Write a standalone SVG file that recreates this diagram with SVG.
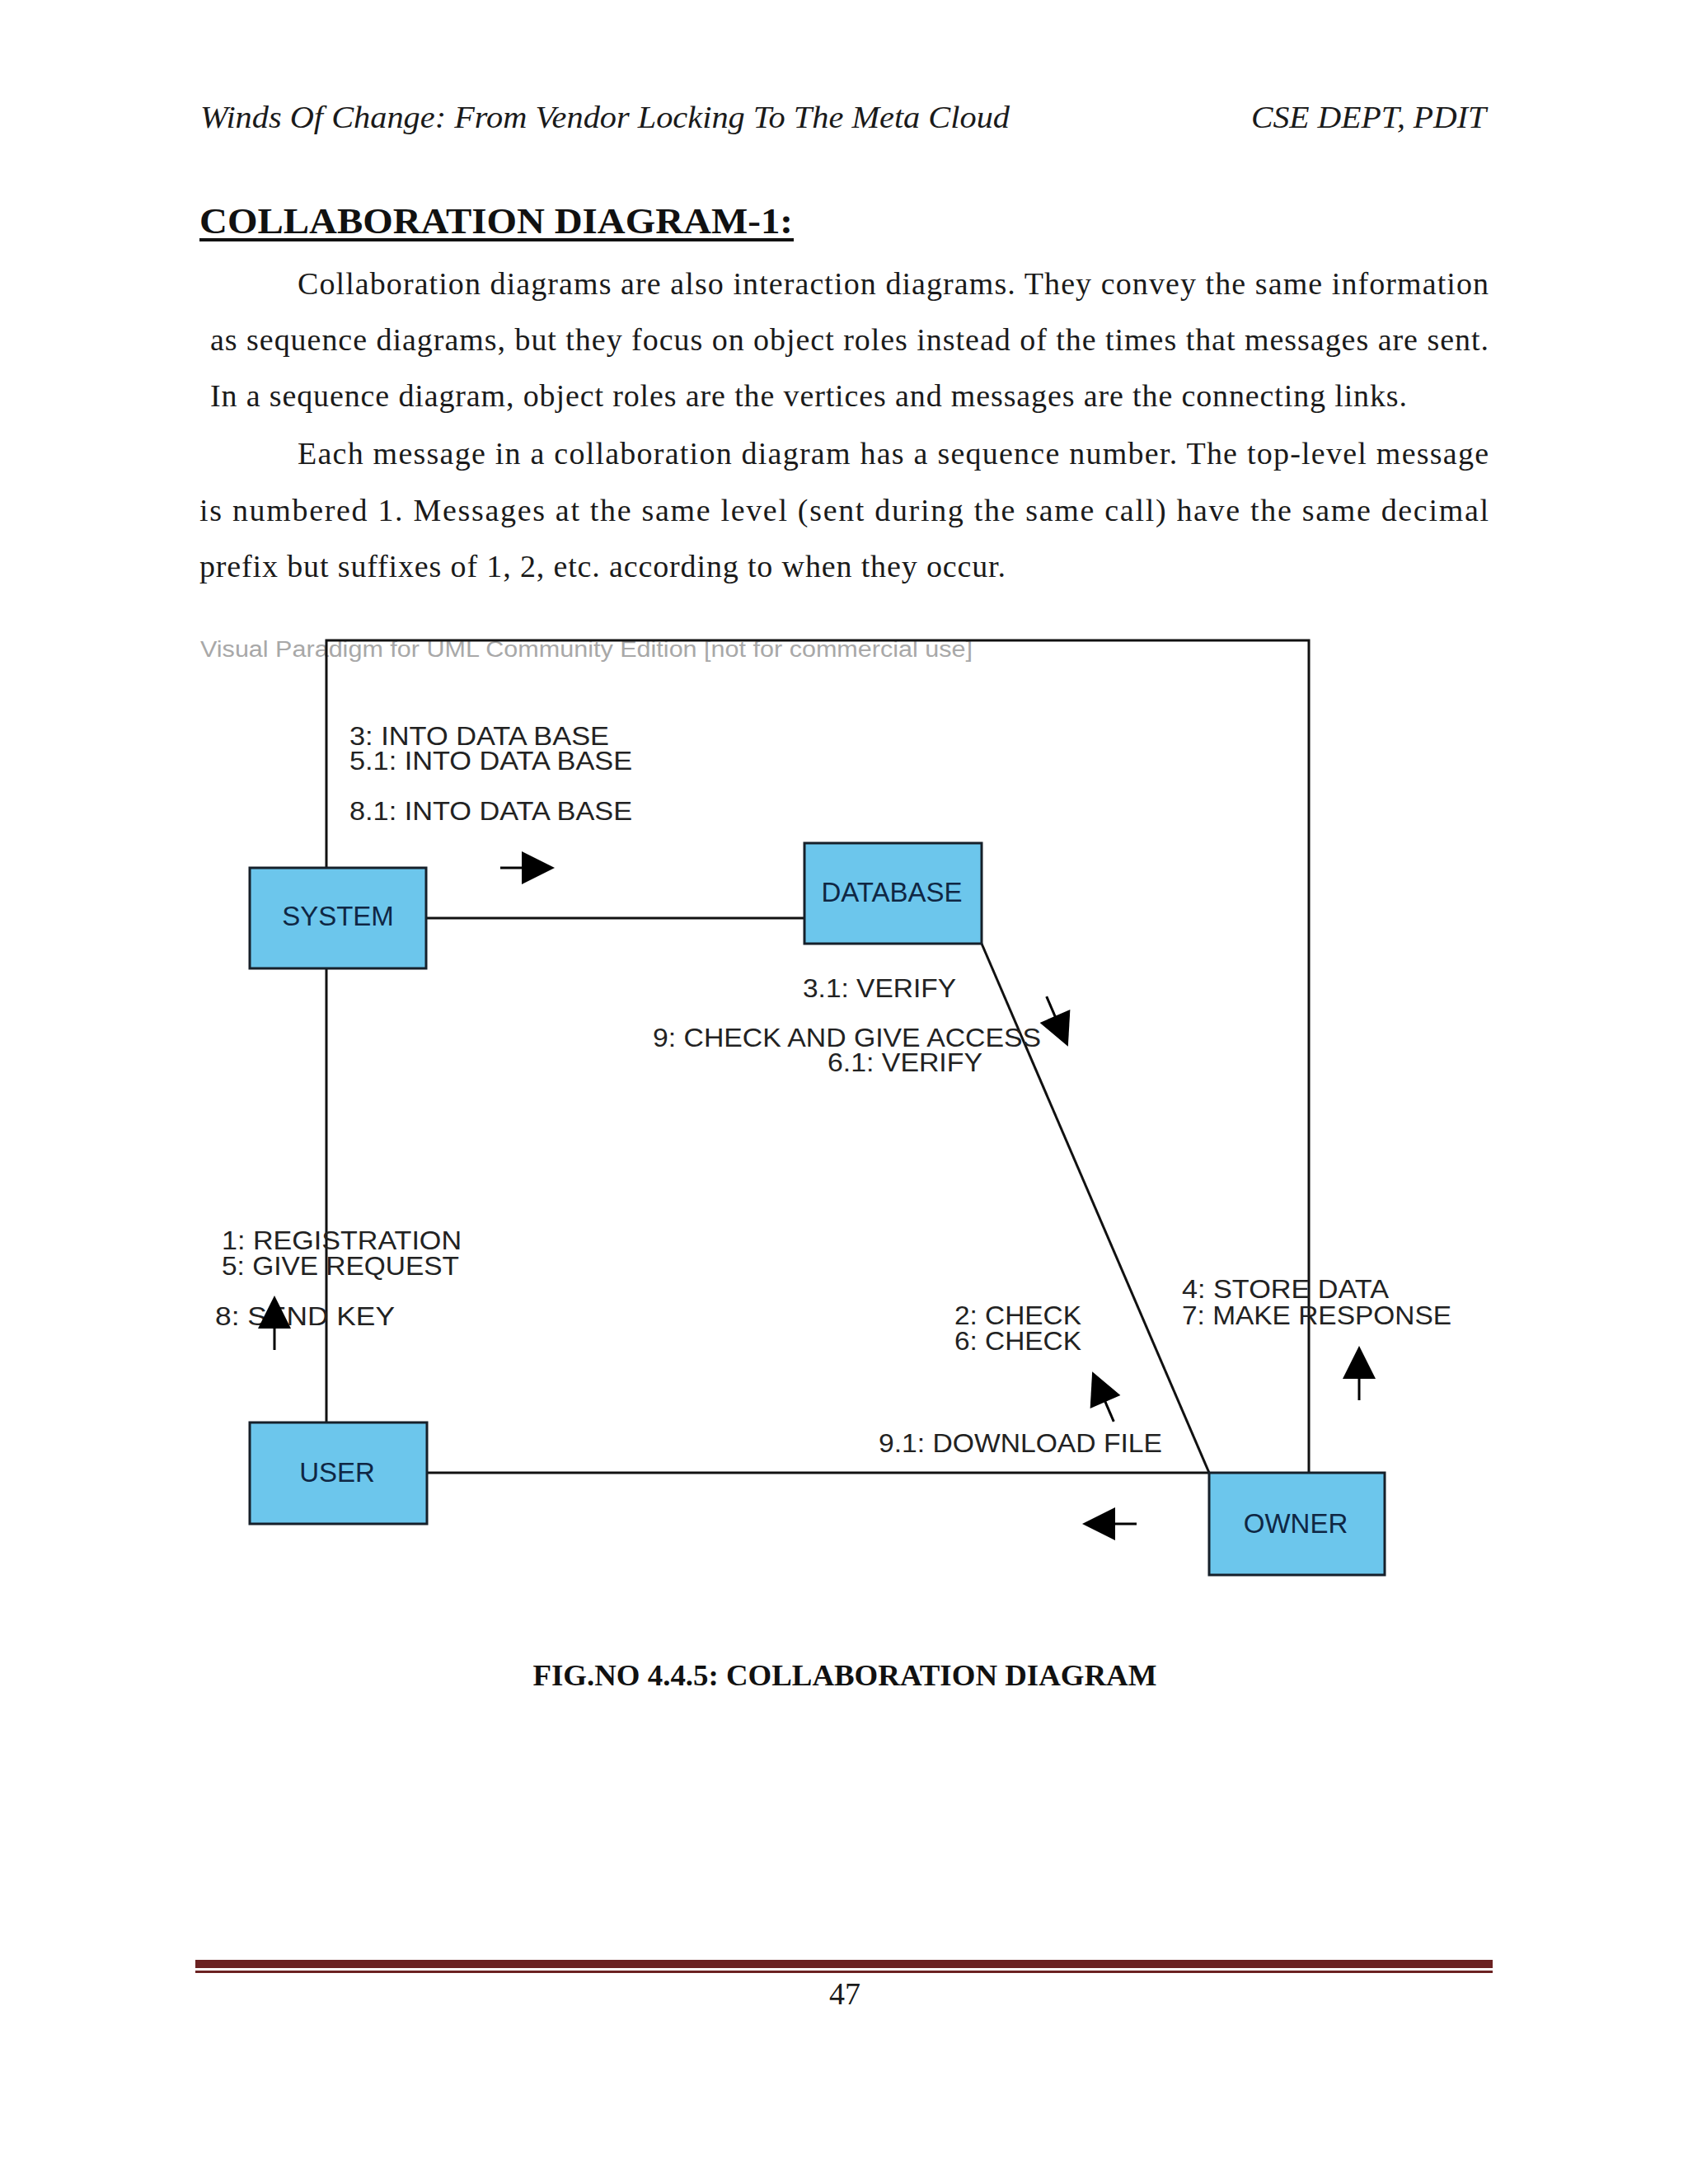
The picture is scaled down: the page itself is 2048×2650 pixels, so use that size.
<svg xmlns="http://www.w3.org/2000/svg" width="2048" height="2650" viewBox="0 0 2048 2650">
<style>
.hdr{font-family:"Liberation Serif","Times New Roman",serif;font-style:italic;font-size:38px;fill:#1a1a1a}
.ttl{font-family:"Liberation Serif","Times New Roman",serif;font-weight:bold;font-size:44px;fill:#111}
.par{font-family:"Liberation Serif","Times New Roman",serif;font-size:38px;fill:#1a1a1a}
.cap{font-family:"Liberation Serif","Times New Roman",serif;font-weight:bold;font-size:35.5px;fill:#111}
.pg{font-family:"Liberation Serif","Times New Roman",serif;font-size:38px;fill:#1a1a1a}
.wm{font-family:"Liberation Sans",Arial,sans-serif;font-size:27px;fill:#a8a8a8}
.lbl{font-family:"Liberation Sans",Arial,sans-serif;font-size:31px;fill:#222}
.nodebox{fill:#6cc6ec;stroke:#16202a;stroke-width:3}
.nodetxt{font-family:"Liberation Sans",Arial,sans-serif;font-size:33px;fill:#0f2744;text-anchor:middle}
.conn{fill:none;stroke:#111;stroke-width:3}
</style>
<defs>
<g id="msgArrow"><line x1="-26" y1="0" x2="2" y2="0" stroke="#000" stroke-width="3"/><polygon points="0,-20 40,0 0,20" fill="#000"/></g>
</defs>
<rect x="0" y="0" width="2048" height="2650" fill="#ffffff"/>

<!-- header -->
<text class="hdr" x="243" y="155" textLength="982" lengthAdjust="spacingAndGlyphs">Winds Of Change: From Vendor Locking To The Meta Cloud</text>
<text class="hdr" x="1518" y="155" textLength="285" lengthAdjust="spacingAndGlyphs">CSE DEPT, PDIT</text>

<!-- title -->
<text class="ttl" x="242" y="283" textLength="720" lengthAdjust="spacingAndGlyphs">COLLABORATION DIAGRAM-1:</text>
<rect x="242" y="289" width="721" height="4" fill="#111"/>

<!-- paragraphs -->
<text class="par" x="361" y="357" textLength="1445" lengthAdjust="spacing">Collaboration diagrams are also interaction diagrams. They convey the same information</text>
<text class="par" x="255" y="425" textLength="1551" lengthAdjust="spacing">as sequence diagrams, but they focus on object roles instead of the times that messages are sent.</text>
<text class="par" x="255" y="493" textLength="1452" lengthAdjust="spacing">In a sequence diagram, object roles are the vertices and messages are the connecting links.</text>
<text class="par" x="361" y="563" textLength="1445" lengthAdjust="spacing">Each message in a collaboration diagram has a sequence number. The top-level message</text>
<text class="par" x="242" y="632" textLength="1564" lengthAdjust="spacing">is numbered 1. Messages at the same level (sent during the same call) have the same decimal</text>
<text class="par" x="242" y="700" textLength="978" lengthAdjust="spacing">prefix but suffixes of 1, 2, etc. according to when they occur.</text>

<!-- watermark -->
<text class="wm" x="243" y="797" textLength="937" lengthAdjust="spacingAndGlyphs">Visual Paradigm for UML Community Edition [not for commercial use]</text>

<!-- connectors -->
<g id="connectors">
<path class="conn" d="M396,1053 V777 H1588 V1787"/>
<path class="conn" d="M396,1175 V1726"/>
<path class="conn" d="M517,1114 H976"/>
<path class="conn" d="M1191,1145 L1467,1787"/>
<path class="conn" d="M518,1787 H1467"/>
</g>

<!-- message labels -->
<g id="messages">
<text class="lbl" x="424" y="904" textLength="315" lengthAdjust="spacingAndGlyphs">3: INTO DATA BASE</text>
<text class="lbl" x="424" y="934" textLength="343" lengthAdjust="spacingAndGlyphs">5.1: INTO DATA BASE</text>
<text class="lbl" x="424" y="995" textLength="343" lengthAdjust="spacingAndGlyphs">8.1: INTO DATA BASE</text>
<use href="#msgArrow" transform="translate(633,1053)"/>

<text class="lbl" x="974" y="1210" textLength="186" lengthAdjust="spacingAndGlyphs">3.1: VERIFY</text>
<text class="lbl" x="792" y="1270" textLength="471" lengthAdjust="spacingAndGlyphs">9: CHECK AND GIVE ACCESS</text>
<text class="lbl" x="1004" y="1300" textLength="188" lengthAdjust="spacingAndGlyphs">6.1: VERIFY</text>
<use href="#msgArrow" transform="translate(1280,1233) rotate(66.7)"/>

<text class="lbl" x="269" y="1516" textLength="291" lengthAdjust="spacingAndGlyphs">1: REGISTRATION</text>
<text class="lbl" x="269" y="1547" textLength="288" lengthAdjust="spacingAndGlyphs">5: GIVE REQUEST</text>
<text class="lbl" x="261" y="1608" textLength="218" lengthAdjust="spacingAndGlyphs">8: SEND KEY</text>
<use href="#msgArrow" transform="translate(333,1612) rotate(-90)"/>

<text class="lbl" x="1158" y="1607" textLength="154" lengthAdjust="spacingAndGlyphs">2: CHECK</text>
<text class="lbl" x="1158" y="1638" textLength="154" lengthAdjust="spacingAndGlyphs">6: CHECK</text>
<use href="#msgArrow" transform="translate(1341,1701) rotate(246.7)"/>

<text class="lbl" x="1434" y="1575" textLength="251" lengthAdjust="spacingAndGlyphs">4: STORE DATA</text>
<text class="lbl" x="1434" y="1607" textLength="327" lengthAdjust="spacingAndGlyphs">7: MAKE RESPONSE</text>
<use href="#msgArrow" transform="translate(1649,1673) rotate(-90)"/>

<text class="lbl" x="1066" y="1762" textLength="344" lengthAdjust="spacingAndGlyphs">9.1: DOWNLOAD FILE</text>
<use href="#msgArrow" transform="translate(1353,1849) rotate(180)"/>
</g>

<!-- nodes -->
<g id="node-system">
<rect class="nodebox" x="303" y="1053" width="214" height="122"/>
<text class="nodetxt" x="410" y="1123">SYSTEM</text>
</g>
<g id="node-database">
<rect class="nodebox" x="976" y="1023" width="215" height="122"/>
<text class="nodetxt" x="1082" y="1094">DATABASE</text>
</g>
<g id="node-user">
<rect class="nodebox" x="303" y="1726" width="215" height="123"/>
<text class="nodetxt" x="409" y="1798">USER</text>
</g>
<g id="node-owner">
<rect class="nodebox" x="1467" y="1787" width="213" height="124"/>
<text class="nodetxt" x="1572" y="1860">OWNER</text>
</g>

<!-- caption -->
<text class="cap" x="1025" y="2045" text-anchor="middle" textLength="757" lengthAdjust="spacingAndGlyphs">FIG.NO 4.4.5: COLLABORATION DIAGRAM</text>

<!-- footer -->
<rect x="237" y="2378" width="1574" height="10" fill="#6b2222"/>
<rect x="237" y="2391" width="1574" height="3" fill="#6b2222"/>
<text class="pg" x="1025" y="2432" text-anchor="middle">47</text>
</svg>
